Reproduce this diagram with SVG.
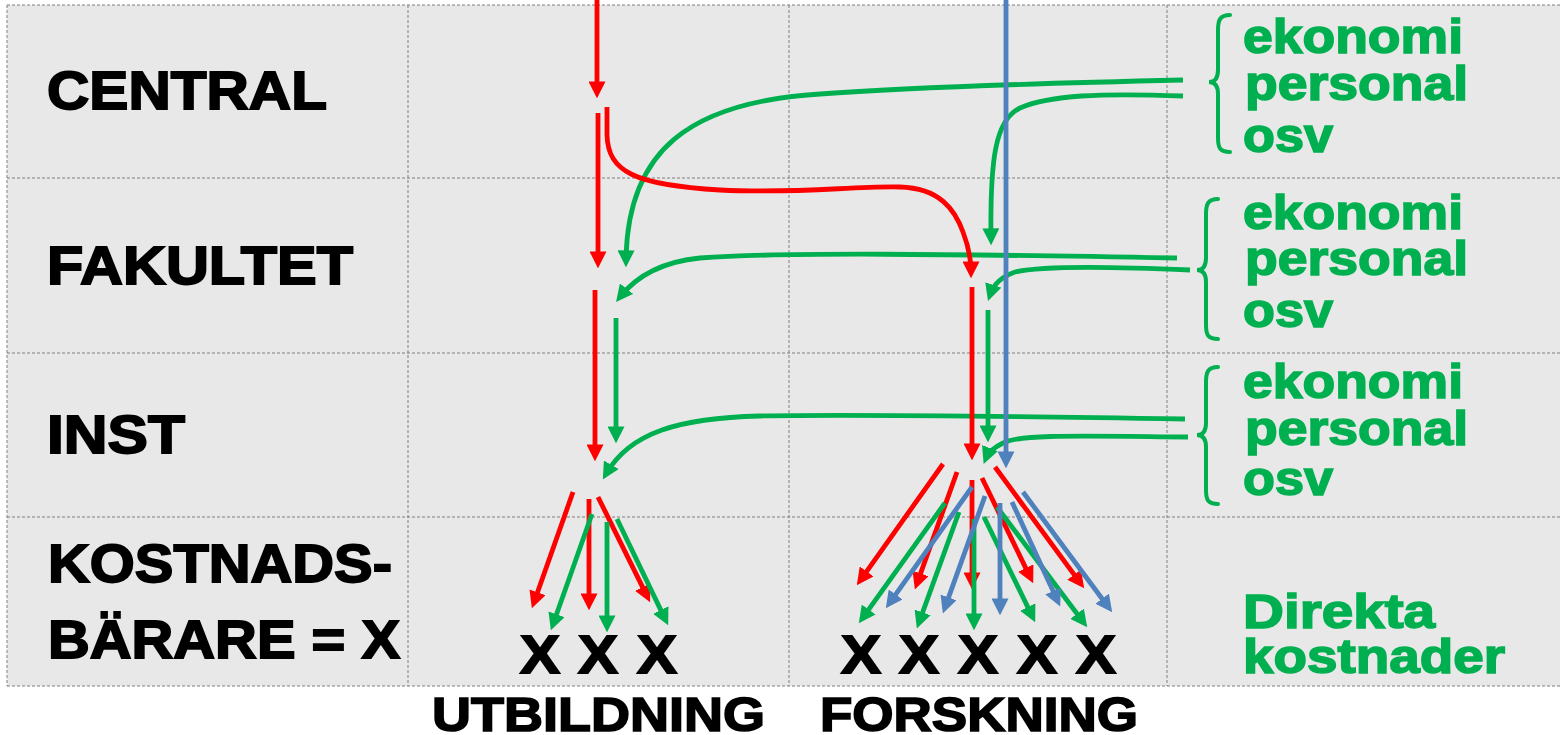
<svg xmlns="http://www.w3.org/2000/svg" width="1560" height="735" viewBox="0 0 1560 735">
<defs>
<style>
.grid{stroke:#7f7f7f;stroke-width:1;stroke-dasharray:3 2;fill:none}
.lbl{font-family:"Liberation Sans",Arial,sans-serif;font-weight:bold;font-size:53px;fill:#000;stroke:#000;stroke-width:1.8}
.x{font-family:"Liberation Sans",Arial,sans-serif;font-weight:bold;font-size:53px;fill:#000;stroke:#000;stroke-width:1.8}
.bot{font-family:"Liberation Sans",Arial,sans-serif;font-weight:bold;font-size:48px;fill:#000;stroke:#000;stroke-width:1.6}
.gt{font-family:"Liberation Sans",Arial,sans-serif;font-weight:bold;font-size:48px;fill:#00b050;stroke:#00b050;stroke-width:1.6}
.r{stroke:#ff0000;stroke-width:4.8;fill:none;marker-end:url(#ar)}
.g{stroke:#00b050;stroke-width:4.8;fill:none;marker-end:url(#ag)}
.b{stroke:#4f81bd;stroke-width:4.8;fill:none;marker-end:url(#ab)}
.brace{stroke:#00b050;stroke-width:4;fill:none;stroke-linecap:round}
</style>
<marker id="ar" markerUnits="userSpaceOnUse" markerWidth="17" markerHeight="17" viewBox="0 0 16 16" refX="10" refY="8" orient="auto"><path d="M0,0 L16,8 L0,16 z" fill="#ff0000"/></marker>
<marker id="ag" markerUnits="userSpaceOnUse" markerWidth="17" markerHeight="17" viewBox="0 0 16 16" refX="10" refY="8" orient="auto"><path d="M0,0 L16,8 L0,16 z" fill="#00b050"/></marker>
<marker id="ab" markerUnits="userSpaceOnUse" markerWidth="17" markerHeight="17" viewBox="0 0 16 16" refX="10" refY="8" orient="auto"><path d="M0,0 L16,8 L0,16 z" fill="#4f81bd"/></marker>
</defs>
<rect width="1560" height="735" fill="#ffffff"/>
<g id="grid">
<rect x="7" y="5" width="1553" height="681" fill="#e8e8e8"/>
<line class="grid" x1="7" y1="5" x2="1560" y2="5"/>
<line class="grid" x1="7" y1="178" x2="1560" y2="178"/>
<line class="grid" x1="7" y1="353" x2="1560" y2="353"/>
<line class="grid" x1="7" y1="517" x2="1560" y2="517"/>
<line class="grid" x1="7" y1="686" x2="1560" y2="686"/>
<line class="grid" x1="7" y1="5" x2="7" y2="686"/>
<line class="grid" x1="408" y1="5" x2="408" y2="686"/>
<line class="grid" x1="789" y1="5" x2="789" y2="686"/>
<line class="grid" x1="1167" y1="5" x2="1167" y2="686"/>
</g>
<g id="row-labels">
<text id="central" class="lbl" x="47" y="109" textLength="280" lengthAdjust="spacingAndGlyphs">CENTRAL</text>
<text id="fakultet" class="lbl" x="47" y="284" textLength="306" lengthAdjust="spacingAndGlyphs">FAKULTET</text>
<text id="inst" class="lbl" x="47" y="453" textLength="138" lengthAdjust="spacingAndGlyphs">INST</text>
<text id="kostnads" class="lbl" x="48" y="582" textLength="344" lengthAdjust="spacingAndGlyphs">KOSTNADS-</text>
<text id="barare" class="lbl" x="48" y="658" textLength="352" lengthAdjust="spacingAndGlyphs">BÄRARE = X</text>
</g>
<g id="utbildning-x">
<text class="x" x="520" y="673" textLength="40" lengthAdjust="spacingAndGlyphs">X</text>
<text class="x" x="578" y="673" textLength="40" lengthAdjust="spacingAndGlyphs">X</text>
<text class="x" x="637" y="673" textLength="40" lengthAdjust="spacingAndGlyphs">X</text>
</g>
<g id="forskning-x">
<text class="x" x="841" y="673" textLength="40" lengthAdjust="spacingAndGlyphs">X</text>
<text class="x" x="899" y="673" textLength="40" lengthAdjust="spacingAndGlyphs">X</text>
<text class="x" x="958" y="673" textLength="40" lengthAdjust="spacingAndGlyphs">X</text>
<text class="x" x="1017" y="673" textLength="40" lengthAdjust="spacingAndGlyphs">X</text>
<text class="x" x="1076" y="673" textLength="40" lengthAdjust="spacingAndGlyphs">X</text>
</g>
<g id="column-labels">
<text class="bot" x="432" y="731" textLength="333" lengthAdjust="spacingAndGlyphs">UTBILDNING</text>
<text class="bot" x="820" y="731" textLength="318" lengthAdjust="spacingAndGlyphs">FORSKNING</text>
</g>
<g id="support-central">
<path class="brace" d="M1230,15 C1220,15 1218,20 1218,30 L1218,70 C1218,78 1215,82 1209,82 C1215,82 1218,86 1218,94 L1218,138 C1218,148 1220,152 1230,152"/>
<text class="gt" x="1243" y="53" textLength="220" lengthAdjust="spacingAndGlyphs">ekonomi</text>
<text class="gt" x="1245" y="100" textLength="223" lengthAdjust="spacingAndGlyphs">personal</text>
<text class="gt" x="1243" y="152" textLength="90" lengthAdjust="spacingAndGlyphs">osv</text>
</g>
<g id="support-fakultet">
<path class="brace" d="M1218,199 C1208,199 1206,204 1206,214 L1206,258 C1206,266 1203,270 1197,270 C1203,270 1206,274 1206,282 L1206,325 C1206,335 1208,339 1218,339"/>
<text class="gt" x="1243" y="229" textLength="220" lengthAdjust="spacingAndGlyphs">ekonomi</text>
<text class="gt" x="1245" y="275" textLength="223" lengthAdjust="spacingAndGlyphs">personal</text>
<text class="gt" x="1243" y="327" textLength="90" lengthAdjust="spacingAndGlyphs">osv</text>
</g>
<g id="support-inst">
<path class="brace" d="M1218,367 C1208,367 1206,372 1206,382 L1206,423 C1206,431 1203,435 1197,435 C1203,435 1206,439 1206,447 L1206,490 C1206,500 1208,504 1218,504"/>
<text class="gt" x="1243" y="398" textLength="220" lengthAdjust="spacingAndGlyphs">ekonomi</text>
<text class="gt" x="1245" y="445" textLength="223" lengthAdjust="spacingAndGlyphs">personal</text>
<text class="gt" x="1243" y="495" textLength="90" lengthAdjust="spacingAndGlyphs">osv</text>
</g>
<g id="direkta">
<text class="gt" x="1243" y="628" textLength="192" lengthAdjust="spacingAndGlyphs">Direkta</text>
<text class="gt" x="1243" y="673" textLength="262" lengthAdjust="spacingAndGlyphs">kostnader</text>
</g>
<g id="connectors">
<path class="g" d="M1183,80 C1050,83 900,88 820,94 C690,102 627,150 626,261"/>
<path class="g" d="M1183,96 C1100,93 1050,95 1020,108 C995,120 990,160 991,239"/>
<path class="g" d="M1177,258 C950,254 780,252 700,258 C660,262 635,278 620,297"/>
<path class="g" d="M1190,270 C1100,266 1040,266 1015,272 C1000,277 993,286 990,295"/>
<path class="g" d="M1185,419 C1000,416 850,414 760,416 C680,418 630,432 606,474"/>
<path class="g" d="M1188,437 C1080,436 1020,434 1003,443 C993,448 988,453 986,458"/>
<path class="r" d="M597,0 L597,92"/>
<path class="r" d="M598,113 L598,262"/>
<path class="r" d="M595,290 L595,455"/>
<path class="g" d="M616,318 L616,437"/>
<path class="r" d="M607,107 L607,135 C608,172 635,185 720,190 C800,194 850,186 900,187 C940,188 955,210 963,232 C968,245 971,258 971,272"/>
<path class="r" d="M972,287 L972,454"/>
<path class="g" d="M988,310 L988,436"/>
<path class="r" d="M573,492 L534,602.3"/>
<path class="r" d="M589,499 L589,604"/>
<path class="r" d="M598,497 L647.3,596.6"/>
<path class="g" d="M592,514 L553,624.3"/>
<path class="g" d="M607,522 L607,626"/>
<path class="g" d="M617,519 L665.4,619.6"/>
<path class="r" d="M943,464 L860.5,580.1"/>
<path class="r" d="M957,472 L917,583.4"/>
<path class="r" d="M972,480 L972,583"/>
<path class="r" d="M982,478 L1030.4,577.6"/>
<path class="r" d="M995,467 L1080.4,583.2"/>
<path class="g" d="M945,503 L862.5,618.1"/>
<path class="g" d="M959,512 L919,622.4"/>
<path class="g" d="M974,519 L974,624"/>
<path class="g" d="M984,517 L1032.4,616.6"/>
<path class="g" d="M997,507 L1083.4,622.2"/>
<path class="b" d="M972,487 L889.5,603.1"/>
<path class="b" d="M985,496 L945,607.4"/>
<path class="b" d="M1000,503 L1000,609"/>
<path class="b" d="M1012,502 L1057.5,600.6"/>
<path class="b" d="M1023,492 L1108.4,607.2"/>
<path class="b" d="M1006,0 L1006,462"/>
</g>
</svg>
